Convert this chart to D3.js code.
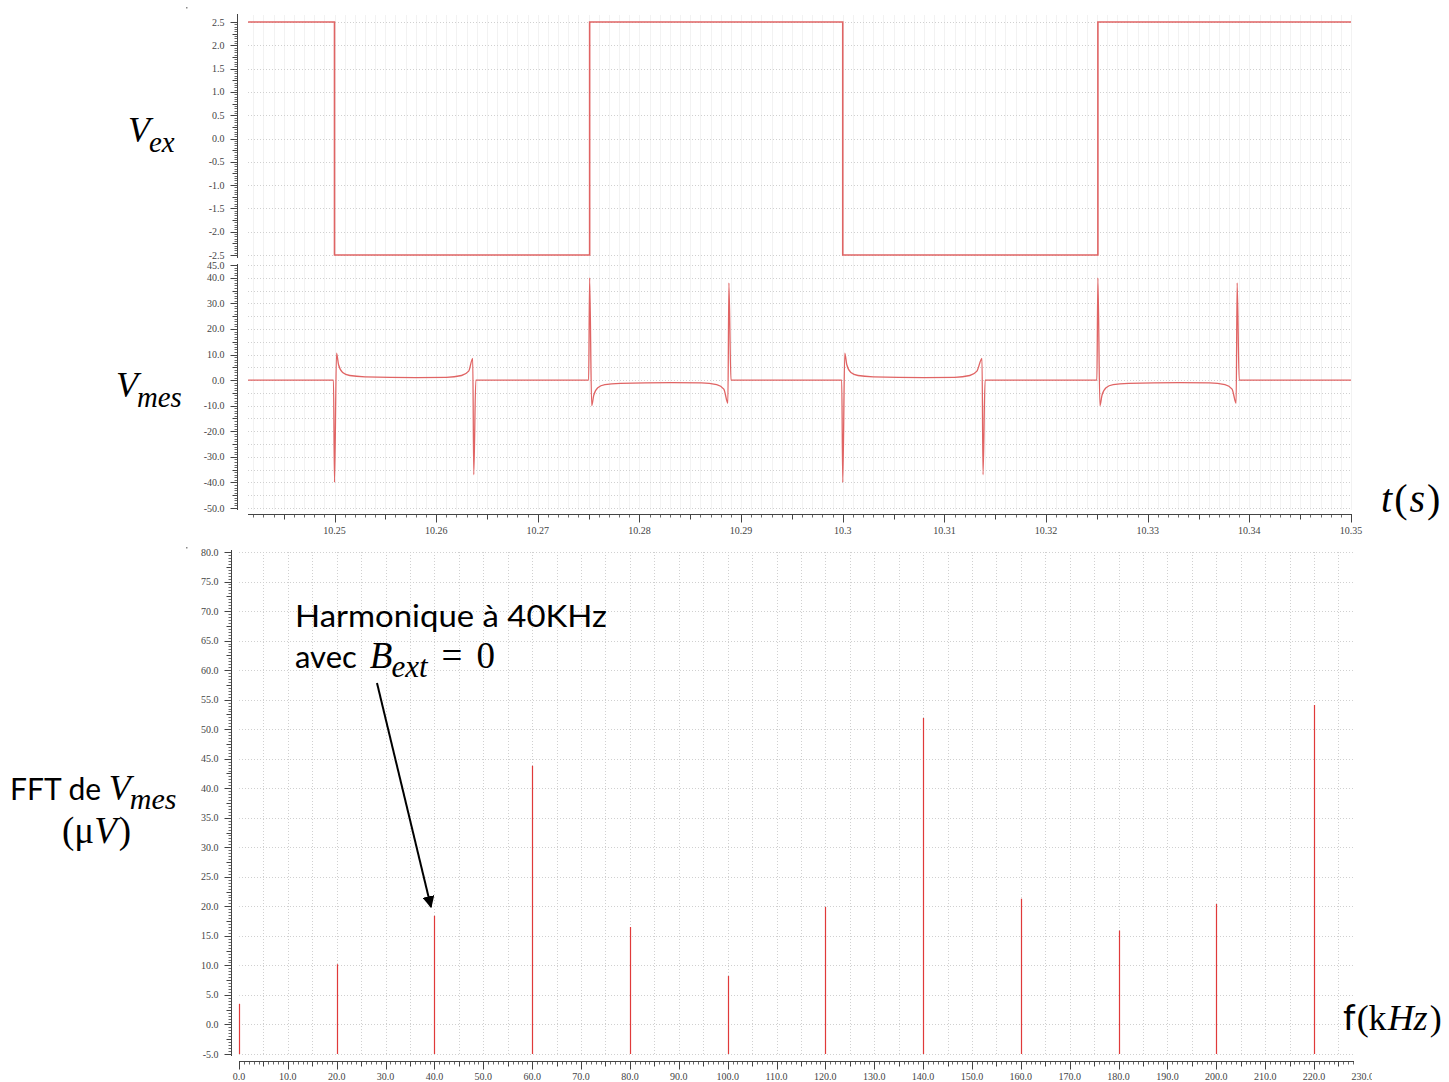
<!DOCTYPE html>
<html><head><meta charset="utf-8">
<script src="https://cdn.jsdelivr.net/npm/d3@7"></script>
<style>body{margin:0;background:#fff}svg{display:block}</style>
</head><body>
<svg id="c" width="1449" height="1082"></svg>
<script>
// ---------- data ----------
const timeTicks = [10.25,10.26,10.27,10.28,10.29,10.30,10.31,10.32,10.33,10.34,10.35];
const vexTicks = [2.5,2.0,1.5,1.0,0.5,0.0,-0.5,-1.0,-1.5,-2.0,-2.5];
const vmesTicks = [45,40,30,20,10,0,-10,-20,-30,-40,-50];
// square excitation: [time, level] (step after)
const vexPts = [[10.2415,2.5],[10.2500,-2.5],[10.2751,2.5],[10.3000,-2.5],[10.3251,2.5],[10.3500,2.5]];
const vmesFall1 = [[10.2415,0],[10.2499,0],[10.2500,-40],[10.2502,10.5],[10.2504,6],[10.2508,3],[10.2515,1.8],[10.2530,1.3],[10.2580,1.0],[10.2610,1.1],[10.2625,1.8],[10.2632,3.5],[10.2636,8.5],[10.2637,-37],[10.2639,0]];
const vmesRise1 = [[10.2750,0],[10.2751,40],[10.2753,-10],[10.2755,-6],[10.2759,-3],[10.2766,-1.8],[10.2781,-1.3],[10.2831,-1.0],[10.2861,-1.1],[10.2876,-1.8],[10.2883,-3.5],[10.2887,-9],[10.2888,38],[10.2890,0]];
const vmesFall2 = [[10.2999,0],[10.3000,-40],[10.3002,10.5],[10.3004,6],[10.3008,3],[10.3015,1.8],[10.3030,1.3],[10.3080,1.0],[10.3110,1.1],[10.3125,1.8],[10.3132,3.5],[10.3137,8.5],[10.3138,-37],[10.3140,0]];
const vmesRise2 = [[10.3250,0],[10.3251,40],[10.3253,-10],[10.3255,-6],[10.3259,-3],[10.3266,-1.8],[10.3281,-1.3],[10.3331,-1.0],[10.3361,-1.1],[10.3376,-1.8],[10.3383,-3.5],[10.3387,-9],[10.3388,38],[10.3390,0],[10.3500,0]];
// FFT
const fftFreq = [0,20,40,60,80,100,120,140,160,180,200,220];
const fftAmp  = [3.5,10.2,18.4,43.8,16.5,8.2,19.9,51.9,21.3,15.9,20.4,54.1];
const fftXTicks = d3.range(0,231,10);
const fftYTicks = d3.range(-5,81,5);

// ---------- drawing ----------
const svg = d3.select('#c');
const red = '#e06464';
const tickFont = "'Liberation Serif', serif";

const xT = d3.scaleLinear().domain([10.25,10.35]).range([334.5,1351]);
const yEx = d3.scaleLinear().domain([-2.5,2.5]).range([255,22]);
const yMes = d3.scaleLinear().domain([-50,45]).range([508,265]);
const xF = d3.scaleLinear().domain([0,220]).range([239,1314]);
const yF = d3.scaleLinear().domain([-5,80]).range([1054,552]);

const plotL = 248, plotR = 1352;

function dotted(g){ g.attr('stroke','#d0d0d0').attr('stroke-dasharray','1,2').attr('stroke-width',1); }

// vertical faint grid in time panels
const tMinor = d3.range(10.242,10.3501,0.001);
svg.append('g').selectAll('line').data(tMinor).join('line')
  .attr('x1',d=>Math.round(xT(d))+0.5).attr('x2',d=>Math.round(xT(d))+0.5)
  .attr('y1',15).attr('y2',510).attr('stroke','#f2f2f2');
// horizontal grids
svg.append('g').selectAll('line').data(vexTicks).join('line')
  .attr('x1',plotL).attr('x2',plotR).attr('y1',d=>Math.round(yEx(d))+0.5).attr('y2',d=>Math.round(yEx(d))+0.5).call(dotted);
svg.append('g').selectAll('line').data(d3.range(-50,46,5)).join('line')
  .attr('x1',plotL).attr('x2',plotR).attr('y1',d=>Math.round(yMes(d))+0.5).attr('y2',d=>Math.round(yMes(d))+0.5).call(dotted);

// y axes helpers
function yRuler(scale, x, minorVals, midVals, majorVals, fmt, y0, y1){
  const g = svg.append('g').attr('stroke','#444');
  g.append('line').attr('x1',x).attr('x2',x).attr('y1',y0).attr('y2',y1);
  g.selectAll('.mn').data(minorVals).join('line').attr('class','mn')
    .attr('x1',x-3).attr('x2',x).attr('y1',d=>Math.round(scale(d))+0.5).attr('y2',d=>Math.round(scale(d))+0.5).attr('stroke-width',0.8);
  g.selectAll('.md').data(midVals).join('line').attr('class','md')
    .attr('x1',x-5).attr('x2',x).attr('y1',d=>Math.round(scale(d))+0.5).attr('y2',d=>Math.round(scale(d))+0.5);
  g.selectAll('.mj').data(majorVals).join('line').attr('class','mj')
    .attr('x1',x-7).attr('x2',x).attr('y1',d=>Math.round(scale(d))+0.5).attr('y2',d=>Math.round(scale(d))+0.5);
  svg.append('g').selectAll('text').data(majorVals).join('text')
    .attr('x',x-13).attr('y',d=>scale(d)+3.5).attr('text-anchor','end')
    .attr('font-family',tickFont).attr('font-size',10).attr('fill','#444').text(fmt);
}
yRuler(yEx, 237.5, d3.range(-2.5,2.51,0.05), d3.range(-2.5,2.51,0.25), vexTicks, d=>d.toFixed(1), 14, 258);
yRuler(yMes, 237.5, d3.range(-50,45.1,1), d3.range(-50,45.1,5), vmesTicks, d=>d.toFixed(1), 264, 510);
yRuler(yF, 231.5, d3.range(-5,80.1,0.5), d3.range(-5,80.1,2.5), fftYTicks, d=>d.toFixed(1), 550, 1056);

// time axis
const ta = svg.append('g').attr('stroke','#444');
const axY = 514.5;
ta.append('line').attr('x1',plotL).attr('x2',plotR).attr('y1',axY).attr('y2',axY);
ta.selectAll('.mn').data(tMinor).join('line').attr('class','mn')
  .attr('x1',d=>Math.round(xT(d))+0.5).attr('x2',d=>Math.round(xT(d))+0.5).attr('y1',axY).attr('y2',axY+3).attr('stroke-width',0.8);
ta.selectAll('.md').data(d3.range(10.245,10.3501,0.005)).join('line').attr('class','md')
  .attr('x1',d=>Math.round(xT(d))+0.5).attr('x2',d=>Math.round(xT(d))+0.5).attr('y1',axY).attr('y2',axY+5);
ta.selectAll('.mj').data(timeTicks).join('line').attr('class','mj')
  .attr('x1',d=>Math.round(xT(d))+0.5).attr('x2',d=>Math.round(xT(d))+0.5).attr('y1',axY).attr('y2',axY+8);
svg.append('g').selectAll('text').data(timeTicks).join('text')
  .attr('x',d=>xT(d)).attr('y',534).attr('text-anchor','middle')
  .attr('font-family',tickFont).attr('font-size',10).attr('fill','#444').text(d=>String(+d.toFixed(2)));

// signals
const lineEx = d3.line().x(d=>xT(d[0])).y(d=>yEx(d[1])).curve(d3.curveStepAfter);
svg.append('path').datum(vexPts).attr('d',lineEx).attr('fill','none').attr('stroke',red).attr('stroke-width',1.6);
const vmesAll = [].concat(vmesFall1, vmesRise1, vmesFall2, vmesRise2);
const lineMes = d3.line().x(d=>xT(d[0])).y(d=>yMes(d[1])).curve(d3.curveMonotoneX);
svg.append('path').datum(vmesAll).attr('d',lineMes).attr('fill','none').attr('stroke',red).attr('stroke-width',1.3);

// FFT grid
svg.append('g').selectAll('line').data(d3.range(5,226,5)).join('line')
  .attr('x1',d=>Math.round(xF(d))+0.5).attr('x2',d=>Math.round(xF(d))+0.5).attr('y1',552).attr('y2',1054).call(dotted);
svg.append('g').selectAll('line').data(fftYTicks).join('line')
  .attr('x1',239).attr('x2',1355).attr('y1',d=>Math.round(yF(d))+0.5).attr('y2',d=>Math.round(yF(d))+0.5).call(dotted);

// FFT x axis
const fa = svg.append('g').attr('stroke','#444');
const fY = 1061.5;
fa.append('line').attr('x1',239).attr('x2',1354).attr('y1',fY).attr('y2',fY);
fa.selectAll('.mn').data(d3.range(0,228.1,1)).join('line').attr('class','mn')
  .attr('x1',d=>Math.round(xF(d))+0.5).attr('x2',d=>Math.round(xF(d))+0.5).attr('y1',fY).attr('y2',fY+3).attr('stroke-width',0.8);
fa.selectAll('.md').data(d3.range(5,226,10)).join('line').attr('class','md')
  .attr('x1',d=>Math.round(xF(d))+0.5).attr('x2',d=>Math.round(xF(d))+0.5).attr('y1',fY).attr('y2',fY+5);
fa.selectAll('.mj').data(fftXTicks.filter(d=>d<=225)).join('line').attr('class','mj')
  .attr('x1',d=>Math.round(xF(d))+0.5).attr('x2',d=>Math.round(xF(d))+0.5).attr('y1',fY).attr('y2',fY+8);
svg.append('clipPath').attr('id','fclip').append('rect').attr('x',0).attr('y',1062).attr('width',1372).attr('height',20);
svg.append('g').attr('clip-path','url(#fclip)').selectAll('text').data(fftXTicks).join('text')
  .attr('x',d=>xF(d)).attr('y',1080).attr('text-anchor','middle')
  .attr('font-family',tickFont).attr('font-size',10).attr('fill','#444').text(d=>d.toFixed(1));

// FFT bars
svg.append('g').selectAll('line').data(fftFreq.map((f,i)=>[f,fftAmp[i]])).join('line')
  .attr('x1',d=>Math.round(xF(d[0]))+0.5).attr('x2',d=>Math.round(xF(d[0]))+0.5)
  .attr('y1',yF(-5)).attr('y2',d=>yF(d[1])).attr('stroke','#e03a3a').attr('stroke-width',1.2);

// tiny marks
svg.append('rect').attr('x',186).attr('y',7).attr('width',1.5).attr('height',1.5).attr('fill','#888');
svg.append('rect').attr('x',186).attr('y',547).attr('width',1.5).attr('height',1.5).attr('fill','#888');

// ---------- labels ----------
const mathF = "'Liberation Serif', 'DejaVu Serif', serif";
const sansF = "Lato, 'Open Sans', sans-serif";
function mathLabel(x, y, main, sub, size){
  const t = svg.append('text').attr('x',x).attr('y',y).attr('font-family',mathF).attr('font-style','italic').attr('font-size',size).attr('fill','#000');
  t.append('tspan').text(main);
  t.append('tspan').attr('dy',size*0.28).attr('font-size',size*0.8).attr('dx',-1).text(sub);
  return t;
}
mathLabel(128, 142, 'V', 'ex', 36);
mathLabel(116, 397, 'V', 'mes', 36);

// FFT de Vmes
const ft = svg.append('text').attr('x',10).attr('y',800).attr('font-size',30).attr('fill','#000');
ft.append('tspan').attr('font-family',sansF).text('FFT de ');
ft.append('tspan').attr('font-family',mathF).attr('font-style','italic').attr('font-size',36).text('V');
ft.append('tspan').attr('font-family',mathF).attr('font-style','italic').attr('font-size',30).attr('dy',9).attr('dx',-1).text('mes');
const uv = svg.append('text').attr('x',62).attr('y',843).attr('font-family',mathF).attr('font-size',37).attr('fill','#000');
uv.append('tspan').text('(μ');
uv.append('tspan').attr('font-style','italic').text('V');
uv.append('tspan').attr('dx',2).text(')');

// t(s)
const ts = svg.append('text').attr('x',1381).attr('y',512).attr('font-family',mathF).attr('font-size',40).attr('fill','#000');
ts.append('tspan').attr('font-style','italic').text('t');
ts.append('tspan').attr('dx',2).text('(');
ts.append('tspan').attr('font-style','italic').attr('dx',2).text('s');
ts.append('tspan').attr('dx',2).text(')');

// f(kHz)
const fk = svg.append('text').attr('x',1343).attr('y',1030).attr('font-size',36).attr('fill','#000');
fk.append('tspan').attr('font-family',sansF).text('f');
fk.append('tspan').attr('font-family',mathF).attr('dx',1).text('(k');
fk.append('tspan').attr('font-family',mathF).attr('font-style','italic').attr('dx',1).text('Hz');
fk.append('tspan').attr('font-family',mathF).attr('dx',2).text(')');

// annotation
svg.append('text').attr('x',295).attr('y',627).attr('font-family',sansF).attr('font-size',31).attr('fill','#000')
  .attr('textLength',312).attr('lengthAdjust','spacingAndGlyphs').text('Harmonique à 40KHz');
const av = svg.append('text').attr('x',295).attr('y',668).attr('font-size',31).attr('fill','#000');
av.append('tspan').attr('font-family',sansF).text('avec ');
av.append('tspan').attr('font-family',mathF).attr('font-style','italic').attr('font-size',37).attr('dx',5).text('B');
av.append('tspan').attr('font-family',mathF).attr('font-style','italic').attr('font-size',31).attr('dy',9).attr('dx',-1).text('ext');
av.append('tspan').attr('font-family',mathF).attr('font-size',37).attr('dy',-9).attr('dx',14).text('=');
av.append('tspan').attr('font-family',mathF).attr('font-size',37).attr('dx',14).text('0');

// arrow
svg.append('defs').append('marker').attr('id','ah').attr('viewBox','0 0 10 10').attr('refX',9).attr('refY',5)
  .attr('markerWidth',6).attr('markerHeight',6).attr('orient','auto')
  .append('path').attr('d','M0,0 L10,5 L0,10 z').attr('fill','#000');
svg.append('line').attr('x1',377).attr('y1',683).attr('x2',431).attr('y2',907)
  .attr('stroke','#000').attr('stroke-width',2).attr('marker-end','url(#ah)');
</script>
</body></html>
